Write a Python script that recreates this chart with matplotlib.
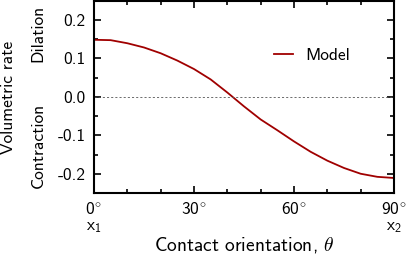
import matplotlib
matplotlib.use("Agg")
import matplotlib.pyplot as plt

theta = [0, 5, 10, 15, 20, 25, 30, 35, 40, 45, 50, 55, 60, 65, 70, 75, 80, 85, 90]
rate = [0.148, 0.147, 0.139, 0.128, 0.113, 0.094, 0.072, 0.045, 0.011, -0.025,
        -0.059, -0.087, -0.116, -0.143, -0.166, -0.185, -0.200, -0.208, -0.211]
xticks = [0, 30, 60, 90]
xticklabels = ["$0^{\\!\\circ}$\n$\\mathsf{x}_1$", "$30^{\\!\\circ}$", "$60^{\\!\\circ}$", "$90^{\\!\\circ}$\n$\\mathsf{x}_2$"]
yticks = [-0.2, -0.1, 0.0, 0.1, 0.2]
yticklabels = ["-0.2", "-0.1", "0.0", "0.1", "0.2"]

plt.rcParams['font.family'] = ['cmss10', 'DejaVu Sans']
plt.rcParams['mathtext.fontset'] = 'custom'
plt.rcParams['mathtext.rm'] = 'cmss10'
plt.rcParams['mathtext.sf'] = 'cmss10'
plt.rcParams['mathtext.it'] = 'cmmi10'
plt.rcParams['axes.unicode_minus'] = False

fs = 12.5
fig = plt.figure(figsize=(4.07, 2.54), dpi=100)
ax = fig.add_axes([94/407, 1 - 193/254, 300/407, 193/254 - 0.002])

ax.plot(theta, rate, color='#a00000', lw=1.3, label='Model')
ax.axhline(0, color='#555555', lw=0.6, ls=(0, (2.5, 2.5)))

ax.set_xlim(0, 90)
ax.set_ylim(-0.25, 0.25)
ax.set_xticks(xticks)
ax.set_xticklabels(xticklabels, fontsize=fs, linespacing=1.0)
ax.set_yticks(yticks)
ax.set_yticklabels(yticklabels, fontsize=fs)
ax.set_xticks(range(0, 91, 10), minor=True)
ax.set_yticks([-0.25 + 0.05 * i for i in range(11)], minor=True)
ax.tick_params(which='both', direction='in', top=True, right=True, width=1.2)
ax.tick_params(which='major', length=5, pad=6)
ax.tick_params(which='minor', length=3)
for s in ax.spines.values():
    s.set_linewidth(1.5)

ax.set_xlabel("Contact orientation, $\\theta$", fontsize=14, labelpad=0)
fig.text(9/407, 1 - 97/254, "Volumetric rate", rotation=90, ha='center', va='center', fontsize=fs)
fig.text(38/407, 1 - 33/254, "Dilation", rotation=90, ha='center', va='center', fontsize=fs)
fig.text(38/407, 1 - 145/254, "Contraction", rotation=90, ha='center', va='center', fontsize=fs)

ax.legend(loc='upper left', bbox_to_anchor=(0.578, 0.79), frameon=False, fontsize=fs,
          handlelength=1.1, handletextpad=0.7, borderaxespad=0)

fig.savefig("out.png", dpi=100)
